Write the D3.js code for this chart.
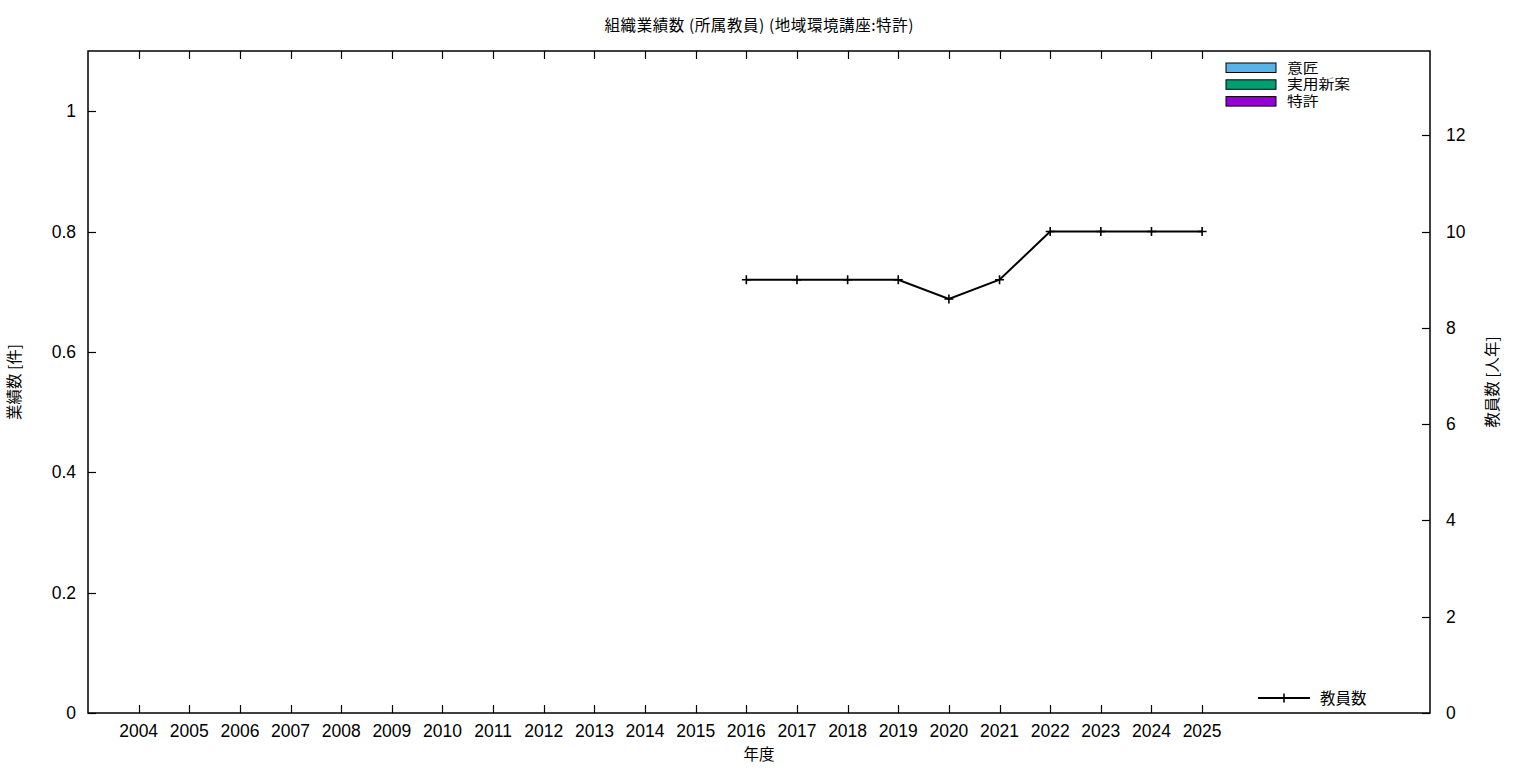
<!DOCTYPE html>
<html><head><meta charset="utf-8">
<script src="https://cdn.jsdelivr.net/npm/d3@7"></script>
<style>
body{margin:0;background:#fff;}
svg{display:block;}
text{font-family:"Liberation Sans","Noto Sans CJK JP",sans-serif;fill:#000;}
.cjk{font-family:"Noto Sans CJK JP","Liberation Sans",sans-serif;}
</style></head>
<body>
<svg id="c" width="1536" height="768"></svg>
<script>
const years = ["2004","2005","2006","2007","2008","2009","2010","2011","2012","2013","2014","2015","2016","2017","2018","2019","2020","2021","2022","2023","2024","2025"];
const designs = [0,0,0,0,0,0,0,0,0,0,0,0,0,0,0,0,0,0,0,0,0,0];
const utilityModels = [0,0,0,0,0,0,0,0,0,0,0,0,0,0,0,0,0,0,0,0,0,0];
const patents = [0,0,0,0,0,0,0,0,0,0,0,0,0,0,0,0,0,0,0,0,0,0];
const staffYears = ["2016","2017","2018","2019","2020","2021","2022","2023","2024","2025"];
const staff = [9,9,9,9,8.6,9,10,10,10,10];
const yTicks = [0,0.2,0.4,0.6,0.8,1];
const y2Ticks = [0,2,4,6,8,10,12];
const barSeries = [
  {name:"意匠", values:designs, color:"#56b4e9"},
  {name:"実用新案", values:utilityModels, color:"#009e73"},
  {name:"特許", values:patents, color:"#9400d3"}
];

const svg = d3.select("#c");
const L=88, R=1430, T=51, B=713;
const x = d3.scaleLinear().domain([-1, 25.5]).range([L, R]);
const y = d3.scaleLinear().domain([0, 1.1]).range([B, T]);
const y2 = d3.scaleLinear().domain([0, 13.75]).range([B, T]);
const xi = s => x(years.indexOf(s));

// bars (stacked, all zero here)
const bw = 50.6*0.75;
let stackBase = years.map(()=>0);
barSeries.forEach(s=>{
  s.values.forEach((v,i)=>{
    if(v>0){
      svg.append("rect").attr("x", x(i)-bw/2).attr("y", y(stackBase[i]+v))
        .attr("width", bw).attr("height", y(stackBase[i])-y(stackBase[i]+v))
        .attr("fill", s.color).attr("stroke","#000");
    }
    stackBase[i]+=v;
  });
});

// border
svg.append("rect").attr("x",L).attr("y",T).attr("width",R-L).attr("height",B-T)
  .attr("fill","none").attr("stroke","#000").attr("stroke-width",1.5);

const tl = 8;
years.forEach((yr,i)=>{
  const px = Math.round(x(i))+0.5;
  svg.append("line").attr("x1",px).attr("x2",px).attr("y1",B).attr("y2",B-tl).attr("stroke","#000").attr("stroke-width",1.2);
  svg.append("line").attr("x1",px).attr("x2",px).attr("y1",T).attr("y2",T+tl).attr("stroke","#000").attr("stroke-width",1.2);
  svg.append("text").attr("x",x(i)).attr("y",737).attr("text-anchor","middle").attr("font-size",17.5).text(yr);
});
yTicks.forEach(v=>{
  const py = Math.round(y(v))+0.5;
  svg.append("line").attr("x1",L).attr("x2",L+tl).attr("y1",py).attr("y2",py).attr("stroke","#000").attr("stroke-width",1.2);
  svg.append("text").attr("x",76).attr("y",y(v)+6).attr("text-anchor","end").attr("font-size",17.5).text(v===0?"0":(v===1?"1":v.toFixed(1)));
});
y2Ticks.forEach(v=>{
  const py = Math.round(y2(v))+0.5;
  svg.append("line").attr("x1",R).attr("x2",R-tl).attr("y1",py).attr("y2",py).attr("stroke","#000").attr("stroke-width",1.2);
  svg.append("text").attr("x",1446).attr("y",y2(v)+6).attr("text-anchor","start").attr("font-size",17.5).text(v);
});

svg.append("text").attr("class","cjk").attr("x",759).attr("y",31).attr("text-anchor","middle").attr("font-size",15.5).attr("textLength",309).text("組織業績数 (所属教員) (地域環境講座:特許)");
svg.append("text").attr("class","cjk").attr("x",759).attr("y",760).attr("text-anchor","middle").attr("font-size",15.5).text("年度");
svg.append("text").attr("class","cjk").attr("transform","translate(20,382) rotate(-90)").attr("text-anchor","middle").attr("font-size",15.5).text("業績数 [件]");
svg.append("text").attr("class","cjk").attr("transform","translate(1498,382) rotate(-90)").attr("text-anchor","middle").attr("font-size",15.5).text("教員数 [人年]");

const line = d3.line().x(d=>xi(d[0])).y(d=>y2(d[1]));
const pts = staffYears.map((s,i)=>[s,staff[i]]);
svg.append("path").attr("d",line(pts)).attr("fill","none").attr("stroke","#000").attr("stroke-width",2);
const m=4.5;
pts.forEach(p=>{
  const cx=xi(p[0]), cy=y2(p[1]);
  svg.append("path").attr("d",`M${cx-m},${cy}H${cx+m}M${cx},${cy-m}V${cy+m}`).attr("stroke","#000").attr("stroke-width",1.6);
});

barSeries.forEach((s,i)=>{
  const ly = 63 + i*16.8;
  svg.append("rect").attr("x",1226).attr("y",ly).attr("width",50).attr("height",9.5).attr("fill",s.color).attr("stroke","#000").attr("stroke-width",1);
  const t = svg.append("text").attr("class","cjk").attr("x",1287).attr("y",ly+9.5).attr("font-size",13.5).text(s.name);
  t.attr("textLength", s.name.length*15.75).attr("lengthAdjust","spacingAndGlyphs");
});
svg.append("line").attr("x1",1258).attr("x2",1310).attr("y1",698).attr("y2",698).attr("stroke","#000").attr("stroke-width",2);
svg.append("path").attr("d",`M${1284-m},698H${1284+m}M1284,${698-m}V${698+m}`).attr("stroke","#000").attr("stroke-width",1.6);
svg.append("text").attr("class","cjk").attr("x",1320).attr("y",704).attr("font-size",15.5).text("教員数");
</script>
</body></html>
